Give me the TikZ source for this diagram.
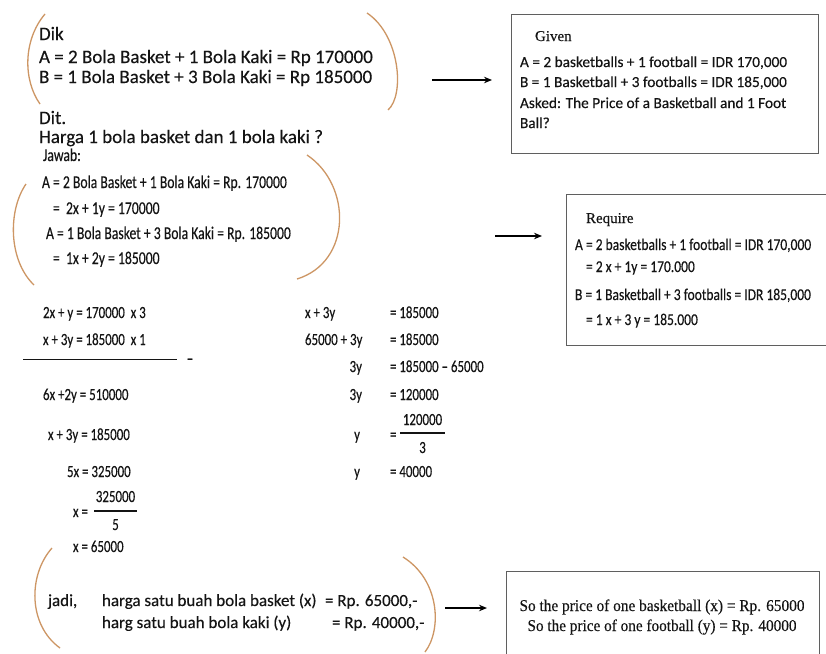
\documentclass[tikz,border=0pt]{standalone}
\usepackage{fontspec}
\usepackage{graphicx}
\usetikzlibrary{arrows.meta}
\setmainfont{Carlito}
\newfontfamily\calfont[FakeBold=0.25]{Carlito}
\newfontfamily\condfont[FakeStretch=0.76,FakeBold=0.25]{Carlito}
\newfontfamily\reqfont[FakeStretch=0.82,FakeBold=0.25]{Carlito}
\newfontfamily\seriffont[FakeBold=0.3]{Liberation Serif}
\definecolor{arccol}{RGB}{205,150,100}
\definecolor{textcol}{RGB}{20,20,20}
\definecolor{boxcol}{RGB}{95,95,95}
\tikzset{
  txt/.style={anchor=base west, inner sep=0pt, outer sep=0pt, text=textcol},
  tA/.style={txt, font=\calfont\fontsize{19}{19}\selectfont},
  tB/.style={txt, font=\condfont\fontsize{18}{18}\selectfont},
  tC/.style={txt, font=\condfont\fontsize{17}{17}\selectfont},
  tG/.style={txt, font=\calfont\fontsize{15.3}{15.3}\selectfont},
  tR/.style={txt, font=\reqfont\fontsize{16.5}{16.5}\selectfont},
  tS/.style={txt, font=\seriffont\fontsize{15}{15}\selectfont},
  tJ/.style={txt, font=\calfont\fontsize{17}{17}\selectfont},
  tF/.style={txt, anchor=base, font=\seriffont\fontsize{16.5}{16.5}\selectfont},
  bracket/.style={draw=arccol, line width=1.3pt},
  framebox/.style={draw=boxcol, line width=1.4pt, inner sep=0pt, anchor=north west},
  arr/.style={-{Stealth[length=8pt,width=6.5pt]}, line width=1.4pt, draw=black},
  fracline/.style={draw=textcol, line width=1.1pt},
}
\begin{document}
\begin{tikzpicture}[x=1pt,y=-1pt]
\useasboundingbox (0,0) rectangle (826,653);
\fill[white] (0,0) rectangle (826,653);
\clip (0,0) rectangle (826,653);

% ---------- block 1 ----------
\draw[bracket] (45,14) .. controls (23,40) and (23,80) .. (40,104);
\draw[bracket] (367,13) .. controls (400,35) and (405,95) .. (388,110);
\node[tA] (dik) at (39,40) {Dik};
\node[tA] (dikA) at (39,63) {A = 2 Bola Basket + 1 Bola Kaki = Rp 170000};
\node[tA] (dikB) at (39,83) {B = 1 Bola Basket + 3 Bola Kaki = Rp 185000};
\node[tA] (dit) at (39,124) {Dit.};
\node[tA] (ditq) at (39,143) {Harga 1 bola basket dan 1 bola kaki ?};
\node[tB] (jawab) at (43,161) {Jawab:};

% Given box
\node[framebox, minimum width=307pt, minimum height=139pt] (given) at (511,14) {};
\node[tS] (givenT) at (535,41) {Given};
\node[tG] (g1) at (520,67) {A = 2 basketballs + 1 football = IDR 170,000};
\node[tG] (g2) at (520,87) {B = 1 Basketball + 3 footballs = IDR 185,000};
\node[tG] (g3) at (520,108) {Asked: The Price of a Basketball and 1 Foot};
\node[tG] (g4) at (520,128) {Ball?};
\coordinate (a1s) at (432,80);
\coordinate (a1e) at (492,80);
\draw[arr] (a1s) -- (a1e);

% ---------- block 2 ----------
\draw[bracket] (26,184) .. controls (8,210) and (8,260) .. (34,285);
\draw[bracket] (307,155) .. controls (352,185) and (352,262) .. (297,279);
\node[tB] (j1) at (42,188) {A = 2 Bola Basket + 1 Bola Kaki = Rp. 170000};
\node[tB] (j2) at (53,214) {=\ \ 2x + 1y = 170000};
\node[tB] (j3) at (46,239) {A = 1 Bola Basket + 3 Bola Kaki = Rp. 185000};
\node[tB] (j4) at (53,264) {=\ \ 1x + 2y = 185000};

% Require box
\node[framebox, minimum width=280pt, minimum height=151pt] (require) at (566,194) {};
\node[tS] (reqT) at (586,223) {Require};
\node[tR] (r1) at (575,250) {A = 2 basketballs + 1 football = IDR 170,000};
\node[tR] (r2) at (586,272) {= 2 x + 1y = 170.000};
\node[tR] (r3) at (575,300) {B = 1 Basketball + 3 footballs = IDR 185,000};
\node[tR] (r4) at (586,325) {= 1 x + 3 y = 185.000};
\coordinate (a2s) at (495,236);
\coordinate (a2e) at (542,236);
\draw[arr] (a2s) -- (a2e);

% ---------- elimination (left) ----------
\node[tC] (e1) at (43,318) {2x + y = 170000\ \ x 3};
\node[tC] (e2) at (43,345) {x + 3y = 185000\ \ x 1};
\coordinate (ls) at (23,359);
\coordinate (le) at (177,359);
\draw[textcol, line width=1pt] (ls) -- (le);
\node[tC, anchor=base] (minus) at (190,364) {–};
\node[tC] (e3) at (43,400) {6x +2y = 510000};
\node[tC] (e4) at (48,440) {x + 3y = 185000};
\node[tC] (e5) at (67,477) {5x = 325000};
\node[tC] (e6) at (73,517) {x =};
\node[tC, anchor=base] (e6n) at (115.5,502) {325000};
\coordinate (f1s) at (94,511);
\coordinate (f1e) at (137,511);
\draw[fracline] (f1s) -- (f1e);
\node[tC, anchor=base] (e6d) at (115.5,530) {5};
\node[tC] (e7) at (73,552) {x = 65000};

% ---------- substitution (right) ----------
\node[tC] (s1l) at (305,318) {x + 3y};
\node[tC] (s1r) at (390,318) {= 185000};
\node[tC] (s2l) at (305,345) {65000 + 3y};
\node[tC] (s2r) at (390,345) {= 185000};
\node[tC, anchor=base east] (s3l) at (362,372) {3y};
\node[tC] (s3r) at (390,372) {= 185000 – 65000};
\node[tC, anchor=base east] (s4l) at (362,400) {3y};
\node[tC] (s4r) at (390,400) {= 120000};
\node[tC, anchor=base east] (s5l) at (360,440) {y};
\node[tC] (s5r) at (390,440) {=};
\node[tC, anchor=base] (s5n) at (422.5,425) {120000};
\coordinate (f2s) at (400,433);
\coordinate (f2e) at (445,433);
\draw[fracline] (f2s) -- (f2e);
\node[tC, anchor=base] (s5d) at (422.5,453) {3};
\node[tC, anchor=base east] (s6l) at (360,477) {y};
\node[tC] (s6r) at (390,477) {= 40000};

% ---------- block 3 ----------
\draw[bracket] (52,548) .. controls (28,575) and (28,625) .. (60,648);
\draw[bracket] (403,557) .. controls (440,580) and (442,630) .. (425,652);
\node[tJ] (jadi) at (48,606) {jadi,};
\node[tJ] (h1) at (102,606) {harga satu buah bola basket (x)};
\node[tJ] (h1r) at (325,606) {= Rp. 65000,-};
\node[tJ] (h2) at (102,628) {harg satu buah bola kaki (y)};
\node[tJ] (h2r) at (332,628) {= Rp. 40000,-};

\node[framebox, minimum width=313pt, minimum height=110pt] (sobox) at (506,571) {};
\node[tF] (so1) at (662,611) {\resizebox{285pt}{\height}{So the price of one basketball (x) = Rp. 65000}};
\node[tF] (so2) at (662,631) {\resizebox{269pt}{\height}{So the price of one football (y) = Rp. 40000}};
\coordinate (a3s) at (445,608);
\coordinate (a3e) at (487,608);
\draw[arr] (a3s) -- (a3e);
\end{tikzpicture}
\end{document}
